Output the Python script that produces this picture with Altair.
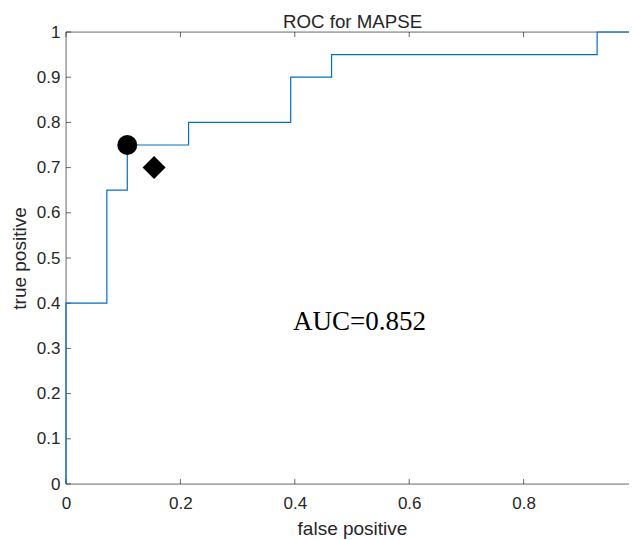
import altair as alt
import pandas as pd

# ROC staircase (false positive rate, true positive rate)
fpr = [0.0, 0.0, 2/28, 3/28, 6/28, 11/28, 13/28, 26/28, 1.0]
tpr = [0.0, 0.40, 0.65, 0.75, 0.80, 0.90, 0.95, 1.00, 1.00]

x_ticks = [0, 0.2, 0.4, 0.6, 0.8, 1.0]
y_ticks = [0, 0.1, 0.2, 0.3, 0.4, 0.5, 0.6, 0.7, 0.8, 0.9, 1.0]

circle_pt = {"fpr": [3/28], "tpr": [0.75]}
diamond_pt = {"fpr": [0.154], "tpr": [0.70]}
auc_text = {"fpr": [0.397], "tpr": [0.341], "label": ["AUC=0.852"]}

FONT = "Liberation Sans"
AX = "#262626"

xs = alt.Scale(domain=[0, 1], range=[0, 572], nice=False, zero=False)
ys = alt.Scale(domain=[0, 1], nice=False, zero=False)

x_axis = alt.Axis(values=x_ticks, format="~g", ticks=False, tickSize=0, domain=False, grid=False,
                  labelFont=FONT, labelFontSize=17, labelColor=AX, labelPadding=11,
                  labelFlush=False, labelOverlap=False,
                  title="false positive", titleFont=FONT, titleFontSize=19,
                  titleFontWeight="normal", titleColor=AX, titlePadding=8)
y_axis = alt.Axis(values=y_ticks, format="~g", ticks=False, tickSize=0, domain=False, grid=False,
                  labelFont=FONT, labelFontSize=17, labelColor=AX, labelPadding=6,
                  labelFlush=False, labelOverlap=False,
                  title="true positive", titleFont=FONT, titleFontSize=19,
                  titleFontWeight="normal", titleColor=AX, titlePadding=7)

def X(f):
    return alt.X(f, type="quantitative", scale=xs, axis=x_axis)

def Y(f):
    return alt.Y(f, type="quantitative", scale=ys, axis=y_axis)

roc = pd.DataFrame({"fpr": fpr, "tpr": tpr, "order": list(range(len(fpr)))})

frame_df = pd.DataFrame({"fpr": [0, 0, 0, 1], "fpr2": [1, 1, 0, 1],
                         "tpr": [0, 1, 0, 0], "tpr2": [0, 1, 1, 1]})
frame = alt.Chart(frame_df).mark_rule(color="#7a7a7a", strokeWidth=1).encode(
    x=X("fpr"), x2="fpr2", y=Y("tpr"), y2="tpr2")

bt = pd.DataFrame({"fpr": x_ticks, "tpr": [0] * len(x_ticks)})
tt = pd.DataFrame({"fpr": x_ticks, "tpr": [1] * len(x_ticks)})
lt = pd.DataFrame({"fpr": [0] * len(y_ticks), "tpr": y_ticks})
rt = pd.DataFrame({"fpr": [1] * len(y_ticks), "tpr": y_ticks})

def ticks(df, orient, xo=0, yo=0):
    return alt.Chart(df).mark_tick(orient=orient, size=5, thickness=1, color=AX,
                                   xOffset=xo, yOffset=yo).encode(x=X("fpr"), y=Y("tpr"))

tick_layers = [ticks(bt, "vertical", yo=-2.5), ticks(tt, "vertical", yo=2.5),
               ticks(lt, "horizontal", xo=2.5), ticks(rt, "horizontal", xo=-2.5)]

line = alt.Chart(roc).mark_line(interpolate="step-after", color="#0072BD",
                                strokeWidth=1.2).encode(
    x=X("fpr"), y=Y("tpr"), order="order:Q")

circ = alt.Chart(pd.DataFrame(circle_pt)).mark_point(
    shape="circle", filled=True, size=400, color="black", opacity=1).encode(x=X("fpr"), y=Y("tpr"))
diam = alt.Chart(pd.DataFrame(diamond_pt)).mark_point(
    shape="diamond", filled=True, size=529, color="black", opacity=1).encode(x=X("fpr"), y=Y("tpr"))
txt = alt.Chart(pd.DataFrame(auc_text)).mark_text(
    font="Liberation Serif", fontSize=27, align="left", baseline="alphabetic", color="black").encode(
    x=X("fpr"), y=Y("tpr"), text="label:N")

chart = alt.layer(frame, *tick_layers, line, circ, diam, txt).properties(
    width=563, height=452,
    title=alt.TitleParams("ROC for MAPSE", font=FONT, fontSize=18.7, fontWeight="normal",
                          color=AX, anchor="start", frame="group", baseline="alphabetic",
                          offset=0, dy=24, dx=217),
    autosize=alt.AutoSizeParams(type="none"),
    padding={"left": 58, "top": 24, "right": 0, "bottom": 56},
).configure_view(stroke=None).configure(background="white")

chart.save("out.html", embed_options={"renderer": "svg", "actions": False})
